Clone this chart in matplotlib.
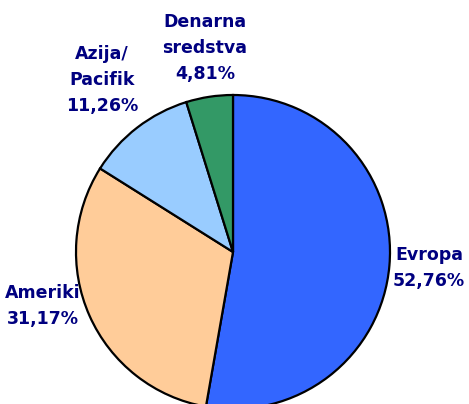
import matplotlib
matplotlib.use("Agg")
import matplotlib.pyplot as plt

# data
labels = ["Evropa", "Ameriki", "Azija/\nPacifik", "Denarna\nsredstva"]
shares = [52.76, 31.17, 11.26, 4.81]
colors = ["#3366ff", "#ffcc99", "#99ccff", "#339966"]

W, H = 469, 404
fig = plt.figure(figsize=(W / 100, H / 100), dpi=100)
ax = fig.add_axes([0, 0, 1, 1])

cx, cy, r = 233, H - 252, 157
ax.pie(shares, colors=colors, startangle=90, counterclock=False,
       center=(cx, cy), radius=r, frame=True,
       wedgeprops=dict(edgecolor="black", linewidth=1.6))
ax.set_xlim(0, W)
ax.set_ylim(0, H)
ax.axis("off")

# label positions (pixel coords, top-left origin)
label_pos = [(429, 268), (43, 306), (102, 80), (205, 48)]
for lab, val, (px, py) in zip(labels, shares, label_pos):
    txt = lab + "\n" + f"{val:.2f}".replace(".", ",") + "%"
    ax.text(px, H - py, txt, ha="center", va="center", color="#000080",
            fontsize=12.5, fontweight="bold", linespacing=1.6,
            family="DejaVu Sans")

fig.savefig("out.png", dpi=100)
